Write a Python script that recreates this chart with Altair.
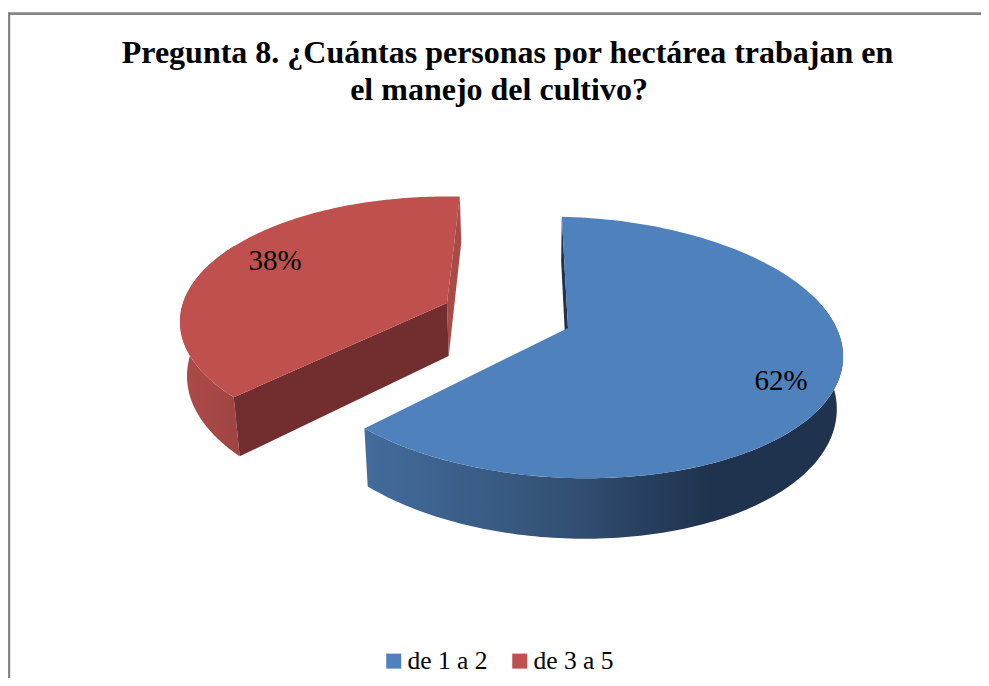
import math
import altair as alt

# ---- chart content
title_lines = ["Pregunta 8. ¿Cuántas personas por hectárea trabajan en",
               "el manejo del cultivo?"]
categories = ["de 1 a 2", "de 3 a 5"]
values = [62, 38]

# ---- palette
top_colors = ["#4f81bd", "#c0504d"]
BORDER = "#868686"
SERIF = "Liberation Serif"

# ---- 3-D pie model: each slice is a perspective view of a flat sector
VANISH_X, VANISH_K = 530, 0.02
blue = dict(x0=568, y0=328, a=272, b=127.6, k=0.149, c=9, start=-1.5, depth=51.5)
red = dict(x0=447, y0=303, a=264, b=122.5, k=0.15, c=0, start=226.4, depth=53)


def project(m, theta, r=1.0):
    t = math.radians(theta)
    u, v = r * math.sin(t), r * math.cos(t)
    s = 1 / (1 + m["k"] * v)
    return [m["x0"] + m["a"] * u * s, m["y0"] - m["b"] * v * s + m["c"] * u * s]


def drop(m, theta, r=1.0):
    t = math.radians(theta)
    v = r * math.cos(t)
    s = 1 / (1 + m["k"] * v)
    x, y = project(m, theta, r)
    return [x + (VANISH_X - x) * VANISH_K, y + m["depth"] * s]


def arc(fn, m, a, b, n=140):
    return [fn(m, a + (b - a) * i / n) for i in range(n + 1)]


def feature(ring, **props):
    ring = ring + [ring[0]]
    return {"type": "Feature", "properties": props,
            "geometry": {"type": "Polygon", "coordinates": [ring]}}


blue_end = blue["start"] + values[0] * 3.6
red_end = red["start"] + values[1] * 3.6

tops = [
    feature([project(blue, 0, 0)] + arc(project, blue, blue["start"], blue_end), series=categories[0]),
    feature([project(red, 0, 0)] + arc(project, red, red["start"], red_end), series=categories[1]),
]
blue_wall = [feature(arc(project, blue, 70, blue_end) + arc(drop, blue, 70, blue_end)[::-1])]
red_wall = [feature(arc(project, red, red["start"], 300) + arc(drop, red, red["start"], 300)[::-1])]
red_face = [feature([project(red, 0, 0), project(red, red["start"]), drop(red, red["start"]), drop(red, 0, 0)])]
red_back = [feature([project(red, 0, 0), project(red, red_end), drop(red, red_end), drop(red, 0, 0)])]
blue_back = [feature([project(blue, 0, 0), project(blue, blue["start"]), drop(blue, blue["start"]), drop(blue, 0, 0)])]


def geo(features, **mark):
    return alt.Chart(alt.Data(values=features)).mark_geoshape(stroke=None, **mark)


blue_grad = alt.Gradient(gradient="linear", x1=0, x2=1, y1=0, y2=0, stops=[
    alt.GradientStop(color="#436c9c", offset=0),
    alt.GradientStop(color="#345277", offset=0.4),
    alt.GradientStop(color="#1f334e", offset=0.72),
    alt.GradientStop(color="#1f334e", offset=1),
])
red_grad = alt.Gradient(gradient="linear", x1=0, x2=1, y1=0, y2=0, stops=[
    alt.GradientStop(color="#ad4b49", offset=0),
    alt.GradientStop(color="#9e4442", offset=1),
])

top_layer = geo(tops).encode(
    color=alt.Color("properties.series:N",
                    scale=alt.Scale(domain=categories, range=top_colors),
                    legend=alt.Legend(title=None, orient="none", legendX=373, legendY=640,
                                      direction="horizontal", symbolType="square",
                                      symbolSize=225, symbolStrokeWidth=0, symbolOpacity=1,
                                      labelFont=SERIF, labelFontSize=25.5, labelColor="#000000",
                                      labelOffset=1, columnPadding=19))
)

mid_blue = project(blue, (blue["start"] + blue_end) / 2, 0.8)
mid_red = project(red, (red["start"] + red_end) / 2, 0.76)
label_rows = [
    {"lon": mid_blue[0], "lat": mid_blue[1] + 9, "txt": f"{values[0]}%"},
    {"lon": mid_red[0] + 2, "lat": mid_red[1] - 5, "txt": f"{values[1]}%"},
]
labels = alt.Chart(alt.Data(values=label_rows)).mark_text(
    font=SERIF, fontSize=29, color="#000000", align="center", baseline="middle"
).encode(longitude="lon:Q", latitude="lat:Q", text="txt:N")

title1 = alt.Chart(alt.Data(values=[{"t": title_lines[0]}])).mark_text(
    font=SERIF, fontSize=32, fontWeight="bold", color="#000000", align="center", baseline="alphabetic"
).encode(x=alt.value(499.5), y=alt.value(55), text="t:N")
title2 = alt.Chart(alt.Data(values=[{"t": title_lines[1]}])).mark_text(
    font=SERIF, fontSize=32, fontWeight="bold", color="#000000", align="center", baseline="alphabetic"
).encode(x=alt.value(491), y=alt.value(92), text="t:N")

border_left = alt.Chart(alt.Data(values=[{"a": 0}])).mark_rule(color=BORDER, strokeWidth=2.7).encode(
    x=alt.value(0.9), y=alt.value(4.2), y2=alt.value(670))
border_top = alt.Chart(alt.Data(values=[{"a": 0}])).mark_rule(color=BORDER, strokeWidth=2.7).encode(
    x=alt.value(0), x2=alt.value(973), y=alt.value(5.6))

chart = alt.layer(
    border_left, border_top,
    geo(blue_back, fill="#1f334e"),
    geo(red_back, fill="#a94a48"),
    geo(red_wall, fill=red_grad),
    geo(red_face, fill="#722e2e"),
    geo(blue_wall, fill=blue_grad),
    top_layer,
    labels, title1, title2,
).project(type="identity", scale=1, translate=[-8, -8]).properties(
    width=973, height=670, padding=0, background="#ffffff",
    autosize=alt.AutoSizeParams(type="none")
).configure_view(stroke=None)

chart.save("out.html", embed_options={"renderer": "svg", "actions": False})
